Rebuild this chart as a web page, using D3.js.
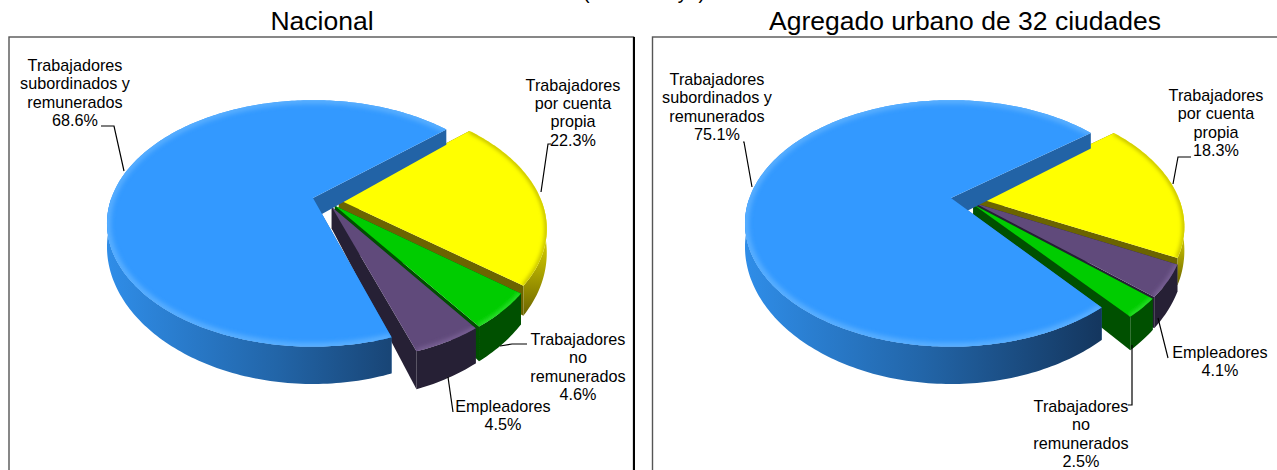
<!DOCTYPE html>
<meta charset="utf-8">
<style>
    body { margin: 0; background: #fff; }
    svg { display: block; }
    text { font-family: "Liberation Sans", Arial, sans-serif; fill: #000; }
    .title { font-size: 26.5px; text-anchor: middle; }
    .header { font-size: 19.6px; text-anchor: middle; }
    .label { font-size: 16.2px; text-anchor: middle; }
    .leader { fill: none; stroke: #000; stroke-width: 1.2px; }
</style>

<body>
    <svg width="1277" height="470"></svg>
</body>

<script src="https://d3js.org/d3.v7.min.js"></script>
<script>

    // values
    var panelTitles = ["Nacional", "Agregado urbano de 32 ciudades"];
    var nacionalCats = ["Trabajadores por cuenta propia", "Trabajadores no remunerados", "Empleadores", "Trabajadores subordinados y remunerados"];
    var nacionalVals = [22.3, 4.6, 4.5, 68.6];
    var urbanoCats = ["Trabajadores por cuenta propia", "Empleadores", "Trabajadores no remunerados", "Trabajadores subordinados y remunerados"];
    var urbanoVals = [18.3, 4.1, 2.5, 75.1];

    // rimAxis says which way the wall shading runs
    var colors = {
        "Trabajadores subordinados y remunerados": { top: "#3399ff", cut: "#2263a6", bevel: "#56adff", bevelW: 8, rimAxis: "x", rim: ["#2f8de8", "#2265a8", "#14365e"] },
        "Trabajadores por cuenta propia": { top: "#ffff00", cut: "#6b6400", bevel: "#a8a000", bevelW: 3, rimAxis: "y", rim: ["#e8e000", "#b0a800", "#6b6400"] },
        "Trabajadores no remunerados": { top: "#00cc00", cut: "#005000", bevel: "#2fe02f", bevelW: 5, rimAxis: "x", rim: ["#005000", "#005000", "#005000"] },
        "Empleadores": { top: "#604a7b", cut: "#262035", bevel: "#7a6296", bevelW: 5, rimAxis: "x", rim: ["#262035", "#262035", "#262035"] }
    };

    // layout: frame, perspective and label placement for each panel
    var panels = [
        {
            title: panelTitles[0], titleX: 322, cats: nacionalCats, vals: nacionalVals,
            frame: [9, 37, 624.5, 460], ox: 313, oy: 198, rx: 201.6, ry: 118, k: 0.206, depth: 21, start: 48.7, explode: 0.065,
            labels: [
                { x: 573, y: 90.5, lines: ["Trabajadores", "por cuenta", "propia", "22.3%"], leader: [[551, 144], [548, 144], [541, 192]] },
                { x: 578, y: 345, lines: ["Trabajadores", "no", "remunerados", "4.6%"], leader: [[527, 344], [512, 344], [500, 346]] },
                { x: 503, y: 412, lines: ["Empleadores", "4.5%"], leader: [[453, 412], [448, 377]] },
                { x: 75, y: 71, lines: ["Trabajadores", "subordinados y", "remunerados", "68.6%"], leader: [[101, 126], [114, 126], [124, 171]] }
            ]
        },
        {
            title: panelTitles[1], titleX: 965, cats: urbanoCats, vals: urbanoVals,
            frame: [652.5, 37, 640, 460], ox: 951, oy: 198, rx: 201.6, ry: 118, k: 0.206, depth: 21, start: 51.5, explode: 0.065,
            labels: [
                { x: 1216, y: 101, lines: ["Trabajadores", "por cuenta", "propia", "18.3%"], leader: [[1191, 157], [1178, 157], [1173, 184]] },
                { x: 1220, y: 358, lines: ["Empleadores", "4.1%"], leader: [[1168, 358], [1158, 318]] },
                { x: 1081, y: 412, lines: ["Trabajadores", "no", "remunerados", "2.5%"], leader: [[1128, 405], [1132, 405], [1132, 345]] },
                { x: 717, y: 85, lines: ["Trabajadores", "subordinados y", "remunerados", "75.1%"], leader: [[743, 142], [744, 142], [752, 187]] }
            ]
        }
    ];

    var svg = d3.select("svg");
    var defs = svg.append("defs");
    var line = d3.line();
    var rad = Math.PI / 180;

    defs.append("filter").attr("id", "soft")
        .attr("x", "-10%").attr("y", "-10%").attr("width", "120%").attr("height", "120%")
        .append("feGaussianBlur").attr("stdDeviation", 2);

    // degrees clockwise from the top -> position on the pie's plane
    function dir(a) {
        return [Math.sin(a * rad), -Math.cos(a * rad)];
    }

    panels.forEach(function (p, pi) {

        // plane coordinates to pixels, nearer points get bigger
        function scale(y) { return 1 / (1 - p.k * y); }
        function project(pt, drop) {
            var s = scale(pt[1]);
            return [p.ox + p.rx * pt[0] * s, p.oy + p.ry * pt[1] * s + (drop ? p.depth * Math.pow(s, 2.5) : 0)];
        }

        svg.append("rect")
            .attr("x", p.frame[0]).attr("y", p.frame[1])
            .attr("width", p.frame[2]).attr("height", p.frame[3])
            .attr("fill", "#fff").attr("stroke", "#555").attr("stroke-width", 1.4);
        svg.append("line")
            .attr("x1", p.frame[0] + p.frame[2] + 0.5).attr("x2", p.frame[0] + p.frame[2] + 0.5)
            .attr("y1", p.frame[1]).attr("y2", p.frame[1] + p.frame[3])
            .attr("stroke", "#000").attr("stroke-width", 2);

        svg.append("text").attr("class", "title")
            .attr("x", p.titleX).attr("y", 30).text(p.title);

        var arcs = d3.pie().sort(null)
            .startAngle(p.start * rad).endAngle((p.start + 360) * rad)(p.vals);

        // the blue slice stays on the projection origin, the others shift relative to it
        var last = arcs[arcs.length - 1];
        var lastDir = dir((last.startAngle + last.endAngle) / 2 / rad);

        arcs.forEach(function (d, i) {
            var a0 = d.startAngle / rad, a1 = d.endAngle / rad;
            var mid = dir((a0 + a1) / 2);
            var apex = [p.explode * (mid[0] - lastDir[0]), p.explode * (mid[1] - lastDir[1])];
            var c = colors[p.cats[i]];

            var angles = d3.range(a0, a1, 1).concat([a1]);
            var rimPts = angles.map(function (a) {
                var u = dir(a);
                return [apex[0] + u[0], apex[1] + u[1]];
            });
            var topRim = rimPts.map(function (q) { return project(q, false); });

            // the wall only shows on the near half of the rim
            var nearPts = angles.filter(function (a) { return dir(a)[1] > 0; }).map(function (a) {
                var u = dir(a);
                return [apex[0] + u[0], apex[1] + u[1]];
            });
            var nearTop = nearPts.map(function (q) { return project(q, false); });
            var nearLow = nearPts.map(function (q) { return project(q, true); });

            var g = svg.append("g").attr("class", "slice");

            // the two cut faces go first so the rim wall sits over them
            [rimPts[0], rimPts[rimPts.length - 1]].forEach(function (q) {
                g.append("path")
                    .attr("d", line([project(apex, false), project(q, false), project(q, true), project(apex, true)]) + "Z")
                    .attr("fill", c.cut);
            });

            // rim wall
            var gradId = "rim" + pi + "-" + i;
            var grad = defs.append("linearGradient").attr("id", gradId)
                .attr("gradientUnits", "userSpaceOnUse");
            if (c.rimAxis == "x") {
                var xs = topRim.map(function (q) { return q[0]; });
                grad.attr("x1", d3.min(xs)).attr("x2", d3.max(xs)).attr("y1", 0).attr("y2", 0);
            } else {
                var ys = nearLow.map(function (q) { return q[1]; });
                grad.attr("x1", 0).attr("x2", 0).attr("y1", d3.min(ys)).attr("y2", d3.max(ys));
            }
            c.rim.forEach(function (col, j) {
                grad.append("stop").attr("offset", j / (c.rim.length - 1)).attr("stop-color", col);
            });
            g.append("path")
                .attr("d", line(nearTop.concat(nearLow.slice().reverse())) + "Z")
                .attr("fill", "url(#" + gradId + ")");

            // top face, bevel is a blurred stroke along the rim clipped to the face
            var face = line([project(apex, false)].concat(topRim)) + "Z";
            var clipId = "face" + pi + "-" + i;
            defs.append("clipPath").attr("id", clipId).append("path").attr("d", face);
            g.append("path").attr("d", face).attr("fill", c.top);
            g.append("g").attr("clip-path", "url(#" + clipId + ")")
                .append("path")
                .attr("d", line(topRim))
                .attr("fill", "none")
                .attr("stroke", c.bevel)
                .attr("stroke-width", c.bevelW)
                .attr("filter", "url(#soft)");
        });

        // labels and their leader lines
        p.labels.forEach(function (l) {
            var t = svg.append("text").attr("class", "label");
            l.lines.forEach(function (s, j) {
                t.append("tspan").attr("x", l.x).attr("y", l.y + j * 18.4).text(s);
            });
            svg.append("path").attr("class", "leader").attr("d", line(l.leader));
        });
    });

    // header line, only its descenders reach into the picture
    svg.append("text").attr("class", "header")
        .attr("x", 644).attr("y", -1).text("(marzo-mayo)");

</script>
